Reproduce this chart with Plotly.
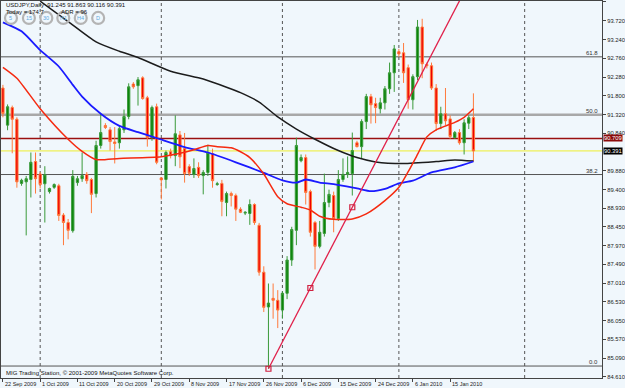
import plotly.graph_objects as go

# ---------------- data ----------------
symbol_title = "USDJPY,Daily  91.245 91.863 90.116 90.391"
info_today = "Today = 174.7"
info_adr = "ADR = 96"
footer = "MIG Trading Station, \u00a9 2001-2009 MetaQuotes Software Corp."

bar_open = [92.00, 91.05, 91.50, 91.20, 89.56, 89.60, 89.66, 90.12, 89.80, 89.55,
            89.35, 89.46, 89.50, 88.75, 88.56, 88.35, 89.58, 89.68, 89.79, 89.66,
            89.30, 90.53, 91.04, 90.93, 90.62, 90.60, 90.93, 91.27, 92.10, 92.06,
            92.26, 91.75, 90.73, 91.52, 89.70, 89.66, 90.37, 90.27, 90.80, 90.45,
            89.99, 89.79, 89.97, 89.76, 89.84, 90.32, 89.53, 89.56, 89.07, 89.30,
            89.25, 88.90, 88.80, 88.79, 89.02, 88.49, 87.29, 86.40, 86.62, 86.57,
            86.32, 86.75, 87.60, 88.36, 90.14, 90.22, 89.35, 88.56, 87.95, 88.28,
            89.07, 89.25, 88.66, 89.66, 89.79, 89.81, 90.60, 90.50, 91.14, 91.78,
            91.60, 91.47, 91.62, 91.98, 92.39, 92.93, 92.90, 92.52, 91.70, 92.29,
            93.56, 92.60, 92.57, 92.00, 91.09, 91.34, 91.21, 90.73, 90.86, 90.60,
            91.10, 91.245]
bar_high = [92.08, 91.58, 91.55, 91.25, 89.68, 89.75, 90.35, 90.35, 89.85, 90.00,
            89.45, 89.56, 89.55, 88.80, 88.65, 89.90, 89.75, 90.35, 89.85, 89.70,
            90.65, 91.34, 91.10, 91.00, 91.00, 91.05, 91.45, 92.12, 92.15, 92.28,
            92.30, 91.80, 91.55, 91.60, 89.72, 90.40, 90.45, 91.30, 90.90, 90.85,
            90.05, 90.20, 90.10, 89.90, 90.55, 90.45, 89.60, 89.65, 89.35, 89.35,
            89.30, 88.95, 88.85, 89.15, 89.05, 88.55, 87.44, 87.00, 87.00, 86.83,
            86.80, 87.70, 88.45, 90.73, 90.30, 90.30, 89.40, 88.60, 88.60, 89.81,
            89.40, 89.35, 89.90, 90.20, 90.25, 90.86, 90.65, 91.20, 91.85, 91.85,
            91.75, 91.75, 92.05, 92.65, 93.10, 93.00, 93.15, 92.60, 92.35, 93.74,
            93.77, 92.65, 92.65, 92.10, 91.52, 92.00, 91.30, 90.90, 90.95, 91.20,
            91.30, 91.863]
bar_low = [91.25, 90.92, 90.33, 89.45, 89.50, 88.23, 89.20, 89.30, 89.43, 88.56,
           89.30, 89.42, 88.60, 87.98, 88.13, 88.30, 89.50, 89.60, 89.55, 88.80,
           89.20, 90.45, 90.95, 90.40, 90.07, 90.45, 90.85, 91.20, 91.98, 91.55,
           91.70, 90.50, 90.65, 90.05, 89.15, 89.43, 90.20, 90.00, 89.95, 89.58,
           89.75, 89.70, 89.70, 89.28, 89.75, 89.45, 89.50, 88.72, 88.72, 88.97,
           88.60, 88.80, 88.75, 88.50, 88.50, 87.20, 86.27, 84.82, 86.10, 85.86,
           86.10, 86.60, 87.45, 87.98, 90.10, 89.02, 88.20, 87.36, 87.90, 88.20,
           88.95, 88.31, 88.60, 89.60, 89.70, 89.25, 90.48, 90.20, 90.95, 91.09,
           91.10, 91.35, 91.45, 91.85, 91.90, 92.80, 92.13, 91.47, 91.45, 92.20,
           92.25, 92.50, 91.95, 90.90, 90.95, 91.05, 90.70, 90.70, 90.55, 90.30,
           90.95, 90.116]
bar_close = [91.35, 91.52, 91.20, 89.60, 89.64, 89.68, 90.10, 89.68, 89.53, 89.78,
             89.43, 89.53, 88.74, 88.56, 88.36, 89.74, 89.68, 89.76, 89.63, 89.28,
             90.53, 90.86, 90.99, 90.63, 90.58, 90.96, 91.27, 92.03, 92.03, 92.21,
             91.73, 90.73, 91.50, 90.10, 89.65, 90.35, 90.27, 90.83, 90.24, 89.81,
             89.82, 89.94, 89.76, 89.84, 90.35, 89.63, 89.55, 89.10, 89.30, 89.25,
             88.90, 88.82, 88.82, 89.02, 88.56, 87.29, 86.39, 86.50, 86.57, 86.32,
             86.75, 87.60, 88.38, 90.53, 90.22, 89.33, 88.31, 87.95, 88.31, 89.07,
             89.28, 88.66, 89.66, 89.79, 89.84, 90.40, 90.50, 91.14, 91.78, 91.57,
             91.50, 91.62, 91.98, 92.39, 93.00, 92.87, 92.39, 91.70, 92.29, 93.56,
             92.62, 92.57, 92.00, 91.09, 91.34, 91.16, 90.76, 90.86, 90.60, 91.11,
             91.24, 90.391]

# moving averages at these bar positions
ma_black_bar = [8, 14, 20, 25, 29, 36, 43, 48, 51, 55, 59, 63, 67, 72, 76, 80, 86, 93, 97, 101]
ma_black_val = [94.22, 93.70, 93.18, 92.94, 92.78, 92.43, 92.23, 92.02, 91.88, 91.64,
                91.26, 90.95, 90.69, 90.40, 90.22, 90.11, 90.07, 90.12, 90.16, 90.13]
ma_blue_bar = [0, 4, 8, 12, 15, 17, 21, 25, 29, 33, 39, 44, 50, 56, 60, 63, 65, 68, 71,
               76, 79, 82, 85, 88, 92, 97, 101]
ma_blue_val = [93.68, 93.45, 92.97, 92.55, 92.08, 91.78, 91.34, 91.03, 90.87, 90.72,
               90.49, 90.35, 90.10, 89.83, 89.64, 89.58, 89.66, 89.58, 89.54, 89.43,
               89.36, 89.42, 89.56, 89.63, 89.84, 89.97, 90.12]
ma_red_bar = [0, 3, 8, 14, 17, 20, 25, 34, 38, 41, 44, 46, 49, 51, 53, 56, 59, 61, 64,
              66, 68, 71, 75, 78, 82, 85, 87, 89, 91, 93, 97, 99, 101]
ma_red_val = [92.53, 92.25, 91.47, 90.69, 90.38, 90.17, 90.20, 90.24, 90.33, 90.42,
              90.53, 90.50, 90.47, 90.37, 90.22, 89.80, 89.22, 89.04, 88.95, 88.88,
              88.72, 88.64, 88.65, 88.78, 89.12, 89.46, 89.86, 90.30, 90.75, 90.93,
              91.12, 91.25, 91.47]

# trend line anchors (bar, price)
trend_bar = [57, 75]
trend_val = [84.82, 88.95]

# fibonacci levels and price lines
fib_labels = ["61.8", "50.0", "38.2", "0.0"]
fib_prices = [92.797, 91.317, 89.787, 84.889]
resist_price = 90.709
bid_price = 90.391

# axes labels
price_ticks = [94.200, 93.720, 93.240, 92.760, 92.280, 91.800, 91.320, 90.840,
               89.880, 89.400, 88.930, 88.450, 87.970, 87.490, 87.010, 86.530,
               86.050, 85.570, 85.090, 84.610]
date_labels = ["22 Sep 2009", "1 Oct 2009", "11 Oct 2009", "20 Oct 2009", "29 Oct 2009",
               "8 Nov 2009", "17 Nov 2009", "26 Nov 2009", "6 Dec 2009", "15 Dec 2009",
               "24 Dec 2009", "6 Jan 2010", "15 Jan 2010"]
bars_per_label = 8
month_sep_bars = [8, 34, 60, 85, 112]
tf_buttons = ["5", "15", "30", "H1", "H4", "D"]

# ---------------- figure ----------------
W, H = 625, 388
ML, MR, MT, MB = 0, 22, 0, 10
PW, PH = W - ML - MR, H - MT - MB
FONT = "Liberation Sans, Arial, sans-serif"
FS = 6
x_range = [-0.41, 128.6]
y_range = [84.583, 94.225]

idx = list(range(len(bar_open)))

def px_x(px):
    return px / PW

def px_y(py):
    return 1 - py / PH

fig = go.Figure()

fig.add_trace(go.Candlestick(
    x=idx, open=bar_open, high=bar_high, low=bar_low, close=bar_close,
    increasing=dict(line=dict(color="#3a9a3a", width=1), fillcolor="#0a850a"),
    decreasing=dict(line=dict(color="#ff7a3c", width=1), fillcolor="#ee0000"),
    whiskerwidth=0, showlegend=False, hoverinfo="skip"))

fig.add_trace(go.Scatter(x=ma_black_bar, y=ma_black_val, mode="lines",
                         line=dict(color="#1c1c1c", width=1.5, shape="spline", smoothing=0.6),
                         showlegend=False, hoverinfo="skip"))
fig.add_trace(go.Scatter(x=ma_blue_bar, y=ma_blue_val, mode="lines",
                         line=dict(color="#1a1aff", width=1.8, shape="spline", smoothing=0.6),
                         showlegend=False, hoverinfo="skip"))
fig.add_trace(go.Scatter(x=ma_red_bar, y=ma_red_val, mode="lines",
                         line=dict(color="#f52a10", width=1.5, shape="spline", smoothing=0.6),
                         showlegend=False, hoverinfo="skip"))

# trend line (ray) through the two anchors, extended to the right
slope = (trend_val[1] - trend_val[0]) / (trend_bar[1] - trend_bar[0])
ray_end = x_range[1]
fig.add_trace(go.Scatter(x=[trend_bar[0], ray_end],
                         y=[trend_val[0], trend_val[0] + slope * (ray_end - trend_bar[0])],
                         mode="lines", line=dict(color="#e0204a", width=1.3),
                         showlegend=False, hoverinfo="skip"))
mid_bar = (trend_bar[0] + trend_bar[1]) / 2
fig.add_trace(go.Scatter(x=[trend_bar[0], mid_bar, trend_bar[1]],
                         y=[trend_val[0], (trend_val[0] + trend_val[1]) / 2, trend_val[1]],
                         mode="markers",
                         marker=dict(symbol="square-open", size=5, color="#d02040",
                                     line=dict(width=1.2, color="#d02040")),
                         showlegend=False, hoverinfo="skip", cliponaxis=False))

shapes = []
for b in month_sep_bars:
    shapes.append(dict(type="line", xref="x", yref="paper", x0=b, x1=b, y0=0, y1=1,
                       line=dict(color="#555555", width=1, dash="dot"), layer="below"))
for lab, p in zip(fib_labels, fib_prices):
    if lab == "50.0":
        ln = dict(color="#a8a8a8", width=2.5)
    else:
        ln = dict(color="#555555", width=1)
    shapes.append(dict(type="line", xref="paper", yref="y", x0=0, x1=1, y0=p, y1=p,
                       line=ln, layer="below"))
shapes.append(dict(type="line", xref="paper", yref="y", x0=0, x1=1, y0=resist_price,
                   y1=resist_price, line=dict(color="#9a1010", width=1.6), layer="below"))
shapes.append(dict(type="line", xref="paper", yref="y", x0=0, x1=1, y0=bid_price,
                   y1=bid_price, line=dict(color="#eeee30", width=1), layer="below"))
# timeframe buttons (rings)
btn_px = [10, 28, 45.5, 62.5, 80, 97.5]
for cx in btn_px:
    shapes.append(dict(type="circle", xref="paper", yref="paper",
                       x0=px_x(cx - 6), x1=px_x(cx + 6), y0=px_y(23), y1=px_y(11),
                       line=dict(color="#b4b4b4", width=2.2), fillcolor="rgba(0,0,0,0)"))

ann = []
for k, lab in enumerate(date_labels):
    ann.append(dict(x=k * bars_per_label, y=0, xref="x", yref="paper", text=lab,
                    showarrow=False, xanchor="left", yanchor="top", yshift=-1, xshift=0,
                    font=dict(size=5.5, color="#222222", family=FONT)))
for lab, p in zip(fib_labels, fib_prices):
    ann.append(dict(x=px_x(601), y=p, xref="paper", yref="y", text=lab, showarrow=False,
                    xanchor="right", yanchor="bottom", yshift=-1,
                    font=dict(size=FS, color="#333333", family=FONT)))
ann.append(dict(x=1, y=resist_price, xref="paper", yref="y", text=f"{resist_price:.3f}",
                showarrow=False, xanchor="left", yanchor="middle", xshift=1,
                bgcolor="#8b0a0a", borderpad=0, font=dict(size=5.8, color="white", family=FONT)))
ann.append(dict(x=1, y=bid_price, xref="paper", yref="y", text=f"{bid_price:.3f}",
                showarrow=False, xanchor="left", yanchor="middle", xshift=1,
                bgcolor="#000000", borderpad=0, font=dict(size=5.8, color="white", family=FONT)))
ann.append(dict(x=px_x(3), y=px_y(4), xref="paper", yref="paper", text=symbol_title,
                showarrow=False, xanchor="left", yanchor="middle",
                font=dict(size=FS, color="#111111", family=FONT)))
ann.append(dict(x=px_x(3), y=px_y(11.5), xref="paper", yref="paper", text=info_today,
                showarrow=False, xanchor="left", yanchor="middle",
                font=dict(size=FS, color="#111111", family=FONT)))
ann.append(dict(x=px_x(58), y=px_y(11.5), xref="paper", yref="paper", text=info_adr,
                showarrow=False, xanchor="left", yanchor="middle",
                font=dict(size=FS, color="#111111", family=FONT)))
for cx, t in zip(btn_px, tf_buttons):
    ann.append(dict(x=px_x(cx), y=px_y(17), xref="paper", yref="paper", text=t,
                    showarrow=False, xanchor="center", yanchor="middle",
                    font=dict(size=5.5, color="#5ea8dc", family=FONT)))
ann.append(dict(x=px_x(3), y=px_y(373), xref="paper", yref="paper", text=footer,
                showarrow=False, xanchor="left", yanchor="middle",
                font=dict(size=FS, color="#111111", family=FONT)))

fig.update_layout(
    width=W, height=H, margin=dict(l=ML, r=MR, t=MT, b=MB, pad=0),
    paper_bgcolor="#f0f7fc", plot_bgcolor="#f0f7fc",
    shapes=shapes, annotations=ann, showlegend=False,
    font=dict(family=FONT, size=FS, color="#222222"),
    xaxis=dict(range=x_range, showgrid=False, zeroline=False, rangeslider=dict(visible=False),
               showline=True, linecolor="#444444", linewidth=1, mirror=True,
               tickmode="array", tickvals=[k * bars_per_label for k in range(len(date_labels))],
               ticks="outside", ticklen=3, tickcolor="#444444", showticklabels=False),
    yaxis=dict(range=y_range, side="right", showgrid=False, zeroline=False,
               showline=True, linecolor="#444444", linewidth=1, mirror=True,
               tickmode="array", tickvals=price_ticks,
               ticktext=[f"{v:.3f}" for v in price_ticks],
               ticks="outside", ticklen=3, tickcolor="#444444",
               tickfont=dict(size=5.8, color="#222222", family=FONT)),
)

fig.write_html("out.html")
